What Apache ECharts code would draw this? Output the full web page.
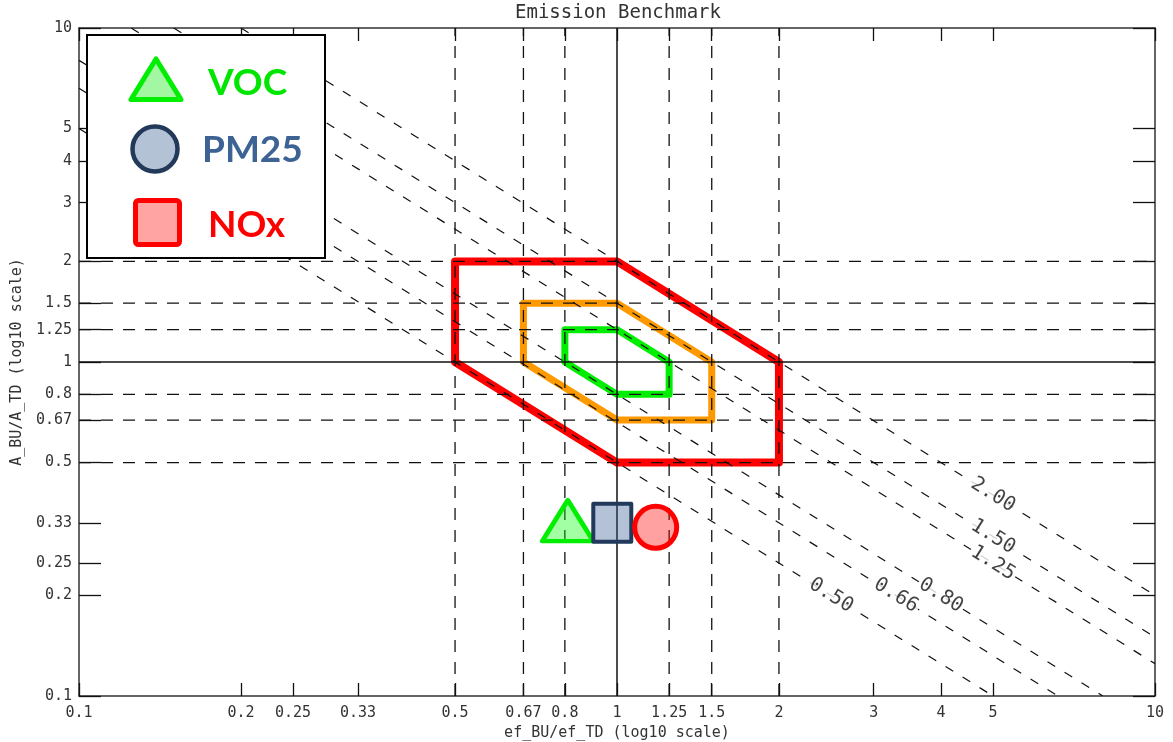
<!DOCTYPE html>
<html>
<head>
<meta charset="utf-8">
<title>Emission Benchmark</title>
<script src="https://cdn.jsdelivr.net/npm/echarts@6/dist/echarts.min.js"></script>
<style>
  html, body { margin: 0; padding: 0; background: #fff; }
  #chart { width: 1173px; height: 742px; }
</style>
</head>
<body>
<div id="chart"></div>
<script>
// Tick values shared by both log10 axes (0.1 – 10)
const tickValues = [0.1, 0.2, 0.25, 0.33, 0.5, 0.67, 0.8, 1, 1.25, 1.5, 2, 3, 4, 5, 10];
// Reference grid lines drawn across the plot
const dashedRefs = [0.5, 0.67, 0.8, 1.25, 1.5, 2];
const solidRefs = [1];
// Iso-lines of constant product ef_BU/ef_TD x A_BU/A_TD
const isoLevels = [0.5, 0.66, 0.8, 1.25, 1.5, 2.0];
// Benchmark envelopes (ef ratio, activity ratio)
const envelopeRed = [[0.5, 2], [1, 2], [2, 1], [2, 0.5], [1, 0.5], [0.5, 1], [0.5, 2]];
const envelopeOrange = [[0.67, 1.5], [1, 1.5], [1.5, 1], [1.5, 0.67], [1, 0.67], [0.67, 1], [0.67, 1.5]];
const envelopeGreen = [[0.8, 1.25], [1, 1.25], [1.25, 1], [1.25, 0.8], [1, 0.8], [0.8, 1], [0.8, 1.25]];
// Pollutant results
const pointVOC = [0.81, 0.335];
const pointPM25 = [0.98, 0.33];
const pointNOx = [1.18, 0.32];

const mono = "'DejaVu Sans Mono', monospace";
const labelColor = '#333';
const fmt = v => String(+(+v).toPrecision(3));

const chart = echarts.init(document.getElementById('chart'), null, { renderer: 'canvas' });

const axisBase = {
  type: 'log', logBase: 10, min: 0.1, max: 10,
  splitLine: { show: false },
  minorTick: { show: false },
  minorSplitLine: { show: false },
  axisLine: { show: true, onZero: false, lineStyle: { color: '#333', width: 1.5 } }
};
const tickStyle = len => ({
  show: true, inside: true, length: len, customValues: tickValues,
  lineStyle: { color: '#111', width: 1.3 }
});
const tickLabel = margin => ({
  show: true, customValues: tickValues, formatter: fmt, margin: margin,
  fontFamily: mono, fontSize: 15, color: labelColor
});
const nameStyle = { fontFamily: mono, fontSize: 15, color: labelColor };

const series = [];

// envelopes sit underneath the grid
function envelope(name, data, color, width) {
  series.push({
    name, type: 'line', data, symbol: 'none', z: 1, silent: true,
    lineStyle: { color, width, join: 'round', cap: 'round' }
  });
}
envelope('±100%', envelopeRed, '#ff0000', 8);
envelope('±50%', envelopeOrange, '#ff9900', 7);
envelope('±25%', envelopeGreen, '#00ee00', 7);

// reference grid
function refLine(data, solid) {
  series.push({
    type: 'line', data, symbol: 'none', z: 3, silent: true,
    lineStyle: { color: '#111', width: solid ? 1.5 : 1.3, type: solid ? 'solid' : [12, 10] }
  });
}
dashedRefs.forEach(v => {
  refLine([[v, 0.1], [v, 10]], false);
  refLine([[0.1, v], [10, v]], false);
});
solidRefs.forEach(v => {
  refLine([[v, 0.1], [v, 10]], true);
  refLine([[0.1, v], [10, v]], true);
});

// iso-lines x * y = c, clipped to the axis range
isoLevels.forEach(c => {
  const x0 = Math.max(0.1, c / 10);
  const x1 = Math.min(10, c / 0.1);
  series.push({
    type: 'line', data: [[x0, c / x0], [x1, c / x1]], symbol: 'none', z: 3, silent: true,
    lineStyle: { color: '#111', width: 1.2, type: [9, 11] }
  });
});
// iso-line labels, written along each line
series.push({
  type: 'scatter', z: 4, silent: true, symbolSize: 0,
  data: isoLevels.map(c => {
    const p = c < 1 ? [c / 0.2, 0.2] : [5, c / 5];
    return { value: p, level: c };
  }),
  label: {
    show: true, position: 'inside', rotate: -32,
    formatter: p => p.data.level.toFixed(2),
    fontFamily: mono, fontSize: 20, color: '#111',
    backgroundColor: '#fff', padding: [0, 2]
  }
});

// pollutant markers
series.push({
  name: 'VOC', type: 'scatter', data: [pointVOC], z: 5,
  symbol: 'triangle', symbolSize: [51, 41],
  itemStyle: { color: 'rgba(0,255,0,0.36)', borderColor: '#00ee00', borderWidth: 4.5, borderJoin: 'round', opacity: 1 }
});
series.push({
  name: 'PM25', type: 'scatter', data: [pointPM25], z: 5,
  symbol: 'rect', symbolSize: 38,
  itemStyle: { color: 'rgba(52,90,150,0.37)', borderColor: '#213a5c', borderWidth: 4, borderJoin: 'round', opacity: 1 }
});
series.push({
  name: 'NOx', type: 'scatter', data: [pointNOx], z: 5,
  symbol: 'circle', symbolSize: 42,
  itemStyle: { color: 'rgba(255,0,0,0.37)', borderColor: '#ff0000', borderWidth: 5, opacity: 1 }
});

const legendFont = { fontSize: 37, fontWeight: 'bold', fontFamily: 'Lato', verticalAlign: 'middle', align: 'left' };

chart.setOption({
  animation: false,
  backgroundColor: '#fff',
  title: {
    text: 'Emission Benchmark', left: 618, top: 4, textAlign: 'center', padding: 0,
    textStyle: { fontFamily: mono, fontSize: 19, fontWeight: 'normal', color: labelColor }
  },
  grid: { left: 79, right: 18, top: 28, bottom: 46, containLabel: false, outerBoundsMode: 'none' },
  xAxis: [
    Object.assign({}, axisBase, {
      position: 'bottom', axisTick: tickStyle(13), axisLabel: tickLabel(10),
      name: 'ef_BU/ef_TD (log10 scale)', nameLocation: 'middle', nameGap: 28, nameTextStyle: nameStyle
    }),
    Object.assign({}, axisBase, { position: 'top', axisTick: tickStyle(13), axisLabel: { show: false } })
  ],
  yAxis: [
    Object.assign({}, axisBase, {
      position: 'left', axisTick: tickStyle(22), axisLabel: tickLabel(7),
      name: 'A_BU/A_TD (log10 scale)', nameLocation: 'middle', nameGap: 54, nameTextStyle: nameStyle
    }),
    Object.assign({}, axisBase, { position: 'right', axisTick: tickStyle(22), axisLabel: { show: false } })
  ],
  series: series,
  graphic: [
    { type: 'rect', z: 100, shape: { x: 87, y: 35, width: 238, height: 223 },
      style: { fill: '#fff', stroke: '#000', lineWidth: 2 } },
    { type: 'polygon', z: 101, shape: { points: [[156, 59], [131, 99.5], [181, 99.5]] },
      style: { fill: '#a3f7a3', stroke: '#00ee00', lineWidth: 5, lineJoin: 'round' } },
    { type: 'text', z: 101, x: 208, y: 83,
      style: Object.assign({ text: 'VOC', fill: '#00e600' }, legendFont) },
    { type: 'circle', z: 101, shape: { cx: 155, cy: 149, r: 22.5 },
      style: { fill: '#b4c2d6', stroke: '#22395a', lineWidth: 4.5 } },
    { type: 'text', z: 101, x: 202, y: 150,
      style: Object.assign({ text: 'PM25', fill: '#3c6394' }, legendFont) },
    { type: 'rect', z: 101, shape: { x: 135.5, y: 200.5, width: 44, height: 44, r: 3 },
      style: { fill: '#ffa3a3', stroke: '#ff0000', lineWidth: 5 } },
    { type: 'text', z: 101, x: 208, y: 225,
      style: Object.assign({ text: 'NOx', fill: '#ff0000' }, legendFont) }
  ]
});
</script>
</body>
</html>
